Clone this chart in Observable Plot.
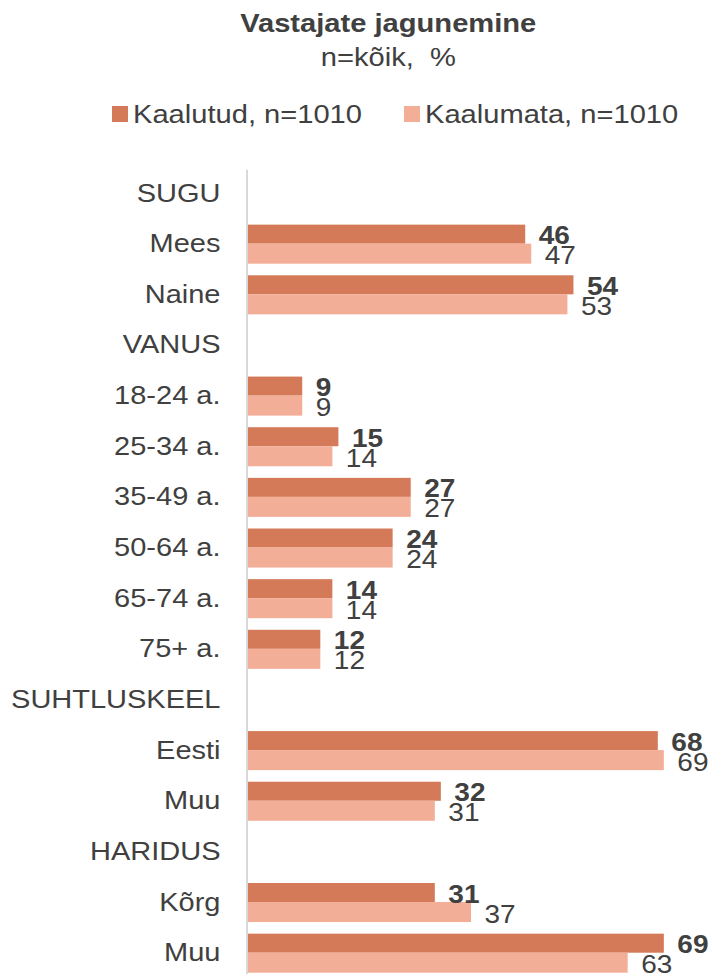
<!DOCTYPE html>
<html><head><meta charset="utf-8">
<script src="https://cdn.jsdelivr.net/npm/d3@7"></script>
<script src="https://cdn.jsdelivr.net/npm/@observablehq/plot@0.6"></script>
<style>
html,body{margin:0;padding:0;width:714px;height:974px;overflow:hidden;background:#fff;font-family:"Liberation Sans",Arial,sans-serif;color:#404040}
#head{position:relative;height:160px;width:714px}
.t{position:absolute;left:0;width:776px;text-align:center;white-space:pre;line-height:1}
.t span{display:inline-block;transform-origin:center center}
.title{top:10px;font-size:26px;font-weight:bold}
.title span{transform:scaleX(1.12)}
.sub{top:44px;font-size:26px}
.sub span{transform:scaleX(1.12)}
.sw{position:absolute;width:16px;height:16px;top:106px}
.lt{position:absolute;top:102px;font-size:25px;line-height:1;white-space:nowrap;transform:scaleX(1.164);transform-origin:left center}
#chart svg{display:block}
</style></head>
<body>
<div id="head">
  <div class="t title"><span id="title"></span></div>
  <div class="t sub"><span id="sub"></span></div>
  <div class="sw" style="left:112px;background:#D57A58"></div>
  <div class="lt" style="left:133px" id="l1"></div>
  <div class="sw" style="left:404px;background:#F3AE98"></div>
  <div class="lt" style="left:425px" id="l2"></div>
</div>
<div id="chart"></div>
<script>
const titleText = "Vastajate jagunemine";
const subtitleText = "n=kõik,  %";
const seriesNames = ["Kaalutud, n=1010", "Kaalumata, n=1010"];
const seriesColors = ["#D57A58", "#F3AE98"];
const categories = ["SUGU","Mees","Naine","VANUS","18-24 a.","25-34 a.","35-49 a.","50-64 a.","65-74 a.","75+ a.","SUHTLUSKEEL","Eesti","Muu","HARIDUS","Kõrg","Muu"];
const kaalutud  = [null,46,54,null,9,15,27,24,14,12,null,68,32,null,31,69];
const kaalumata = [null,47,53,null,9,14,27,24,14,12,null,69,31,null,37,63];

document.getElementById("title").textContent = titleText;
document.getElementById("sub").textContent = subtitleText;
document.getElementById("l1").textContent = seriesNames[0];
document.getElementById("l2").textContent = seriesNames[1];

const rows = categories.map((c, i) => ({i, c, k: kaalutud[i], m: kaalumata[i]})).filter(d => d.k != null);

const chart = Plot.plot({
  width: 714,
  height: 818,
  marginLeft: 248,
  marginRight: 14,
  marginTop: 7.7,
  marginBottom: 0,
  x: {domain: [0, 75], axis: null},
  y: {domain: d3.range(categories.length), padding: 0, round: false, tickFormat: i => categories[i], tickSize: 0, tickPadding: 28, label: null},
  style: {fontSize: "25px", fontFamily: "'Liberation Sans', Arial, sans-serif", color: "#404040", background: "#fff"},
  marks: [
    Plot.barX(rows, {y: "i", x: "k", fill: seriesColors[0], insetTop: 6.3, insetBottom: 25.3}),
    Plot.barX(rows, {y: "i", x: "m", fill: seriesColors[1], insetTop: 25.3, insetBottom: 5.3}),
    Plot.ruleX([0], {stroke: "#d9d9d9", strokeWidth: 2, dx: -1.5, insetTop: 2}),
    Plot.text(rows, {y: "i", x: "k", text: d => String(d.k), textAnchor: "start", dx: 13, dy: -8, fontWeight: "bold", fill: "#404040"}),
    Plot.text(rows, {y: "i", x: "m", text: d => String(d.m), textAnchor: "start", dx: 13, dy: 12, fill: "#404040"})
  ]
});

// widen glyphs horizontally about each text's anchor, as in the reference
chart.querySelectorAll("text").forEach(t => {
  const tr = t.getAttribute("transform") || "";
  const x = +(t.getAttribute("x") || 0);
  const s = t.closest('[aria-label="y-axis tick label"]') ? 1.16 : 1.12;
  t.setAttribute("transform", `${tr} translate(${x},0) scale(${s},1) translate(${-x},0)`);
});
document.getElementById("chart").appendChild(chart);
</script>
</body></html>
